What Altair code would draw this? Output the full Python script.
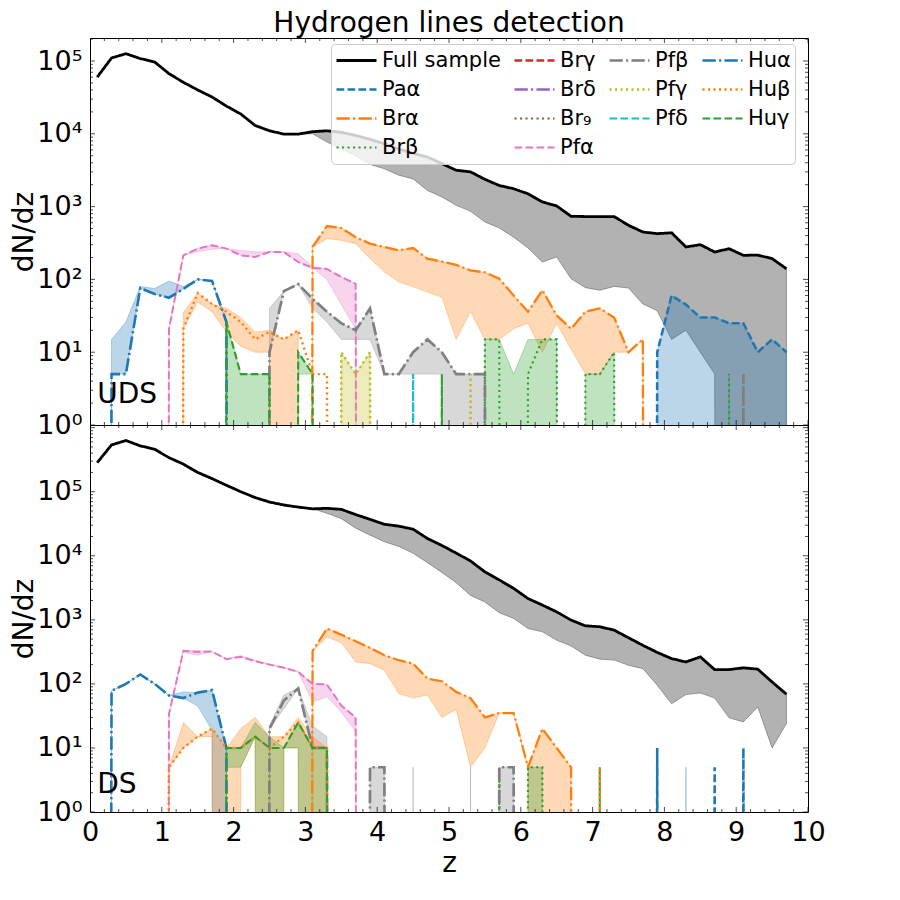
import altair as alt
import pandas as pd

# ---------------- data ----------------
Z_ALL = [0.1, 0.3, 0.5, 0.7, 0.9, 1.1, 1.3, 1.5, 1.7, 1.9, 2.1, 2.3, 2.5, 2.7, 2.9,
         3.1, 3.3, 3.5, 3.7, 3.9, 4.1, 4.3, 4.5, 4.7, 4.9, 5.1, 5.3, 5.5, 5.7, 5.9,
         6.1, 6.3, 6.5, 6.7, 6.9, 7.1, 7.3, 7.5, 7.7, 7.9, 8.1, 8.3, 8.5, 8.7, 8.9,
         9.1, 9.3, 9.5, 9.7]

# ---- UDS (top panel) ----
UDS_FULL_LINE = [6.0e4, 1.1e5, 1.26e5, 1.08e5, 9.7e4, 6.7e4, 5.1e4, 4.0e4, 3.2e4, 2.4e4, 1.87e4, 1.3e4, 1.1e4, 9.9e3, 9.9e3,
                 1.07e4, 1.1e4, 1.05e4, 9.5e3, 8.4e3, 7.3e3, 6.2e3, 5.4e3, 4.8e3, 3.9e3,
                 3.16e3, 3.0e3, 2.37e3, 1.95e3, 1.76e3, 1.5e3, 1.16e3, 1.02e3, 736, 730,
                 730, 730, 553, 448, 425, 437, 279, 300, 238, 264,
                 214, 216, 193, 140]
UDS_FULL_LO = [6.0e4, 1.1e5, 1.26e5, 1.08e5, 9.7e4, 6.7e4, 5.1e4, 4.0e4, 3.2e4, 2.4e4, 1.87e4, 1.3e4, 1.1e4, 9.9e3, 9.9e3,
               1.0e4, 7.7e3, 6.2e3, 5.0e3, 3.8e3, 3.3e3, 2.7e3, 2.4e3, 1.66e3, 1.36e3,
               1.04e3, 861, 613, 508, 380, 270, 173, 203, 102, 77,
               71, 80, 76, 46, 37, 15, 20, 10, 5, 0,
               0, 0, 0, 0]

UDS_PAA_Z = [7.7, 7.9, 8.1, 8.3, 8.5, 8.7, 8.9, 9.1, 9.3, 9.5, 9.7]
UDS_PAA_LINE = [0, 10, 60, 45, 30, 30, 25, 25, 10, 15, 10]
UDS_PAA_LO = [0, 0, 0, 0, 0, 0, 0, 0, 0, 0, 0]

UDS_BRA_Z = [2.9, 3.1, 3.3, 3.5, 3.7, 3.9, 4.1, 4.3, 4.5, 4.7, 4.9, 5.1, 5.3, 5.5, 5.7, 5.9,
             6.1, 6.3, 6.5, 6.7, 6.9, 7.1, 7.3, 7.5, 7.7, 7.9]
UDS_BRA_LINE = [0, 279, 541, 508, 380, 310, 279, 251, 270, 193, 176, 158, 133, 125, 102, 60,
                36, 71, 32, 21, 36, 40, 30, 10, 15, 0]
UDS_BRA_LO = [0, 279, 363, 344, 310, 193, 126, 92, 79, 67, 57, 15, 36, 15, 15, 21,
              25, 10, 25, 11, 5, 5, 10, 10, 15, 0]

UDS_BRB_Z = [5.3, 5.5, 5.7, 5.9, 6.1, 6.3, 6.5, 6.7, 6.9, 7.1, 7.3, 7.5, 8.7, 8.9, 9.1]
UDS_BRB_LINE = [0, 15, 15, 0, 5, 15, 15, 0, 5, 5, 10, 0, 0, 5, 0]
UDS_BRB_LO = [0, 0, 0, 0, 0, 0, 0, 0, 0, 0, 0, 0, 0, 0, 0]
UDS_BRB_HI = [0, 15, 15, 5, 15, 15, 15, 0, 5, 5, 10, 0, 0, 5, 0]

UDS_PFA_Z = [0.9, 1.1, 1.3, 1.5, 1.7, 1.9, 2.1, 2.3, 2.5, 2.7, 2.9, 3.1, 3.3, 3.5, 3.7, 3.9]
UDS_PFA_LINE = [0, 21, 214, 265, 295, 265, 214, 203, 238, 238, 173, 144, 139, 108, 87, 0]
UDS_PFA_LO = [0, 21, 214, 240, 260, 265, 214, 203, 238, 238, 173, 144, 100, 45, 21, 0]
UDS_PFA_HI = [0, 21, 214, 265, 295, 265, 250, 240, 240, 240, 225, 150, 139, 108, 87, 0]

UDS_PFB_Z = [2.3, 2.5, 2.7, 2.9, 3.1, 3.3, 3.5, 3.7, 3.9, 4.1, 4.3, 4.5, 4.7, 4.9, 5.1, 5.3, 5.5, 5.7,
             8.9, 9.1, 9.3]
UDS_PFB_LINE = [0, 10, 69, 86, 54, 36, 25, 20, 40, 5, 5, 10, 15, 10, 5, 5, 5, 0, 0, 5, 0]
UDS_PFB_LO = [0, 10, 69, 86, 40, 26, 15, 15, 15, 5, 5, 5, 5, 5, 0, 0, 0, 0, 0, 0, 0]
UDS_PFB_HI = [0, 40, 69, 86, 54, 36, 25, 20, 40, 5, 5, 10, 15, 10, 5, 5, 5, 0, 0, 0, 0]

UDS_PFG_Z = [3.3, 3.5, 3.7, 3.9, 4.1, 5.1, 5.3, 5.5]
UDS_PFG_LINE = [0, 10, 5, 10, 0, 0, 5, 0]
UDS_PFG_LO = [0, 0, 0, 0, 0, 0, 0, 0]
UDS_PFG_HI = [0, 10, 5, 10, 0, 0, 0, 0]

UDS_PFD_Z = [4.3, 4.5, 4.7]
UDS_PFD_LINE = [0, 5, 0]
UDS_PFD_LO = [0, 0, 0]

UDS_HUA_Z = [0.1, 0.3, 0.5, 0.7, 0.9, 1.1, 1.3, 1.5, 1.7, 1.9, 2.1]
UDS_HUA_LINE = [0, 5, 5, 76, 63, 56, 74, 100, 95, 26, 0]
UDS_HUA_HI = [0, 15, 26, 80, 75, 95, 80, 100, 95, 26, 0]

UDS_HUB_Z = [1.1, 1.3, 1.5, 1.7, 1.9, 2.1, 2.3, 2.5, 2.7, 2.9, 3.1, 3.3, 3.5]
UDS_HUB_LINE = [0, 21, 65, 46, 36, 26, 15, 19, 15, 20, 5, 5, 0]
UDS_HUB_LO = [0, 21, 49, 36, 19, 12, 10, 10, 0, 0, 0, 0, 0]
UDS_HUB_HI = [0, 35, 65, 46, 40, 30, 19, 20, 15, 20, 0, 0, 0]

UDS_HUG_Z = [1.7, 1.9, 2.1, 2.3, 2.5, 2.7, 2.9, 3.1, 3.3, 4.7, 4.9, 5.1]
UDS_HUG_LINE = [0, 26, 5, 5, 5, 0, 10, 5, 0, 0, 5, 0]
UDS_HUG_LO = [0, 0, 0, 0, 0, 0, 5, 5, 0, 0, 0, 0]
UDS_HUG_HI = [0, 26, 5, 5, 5, 0, 10, 5, 0, 0, 0, 0]

# ---- DS (bottom panel) ----
DS_FULL_LINE = [2.84e5, 5.37e5, 6.3e5, 5.2e5, 4.6e5, 3.4e5, 2.7e5, 2.0e5, 1.6e5, 1.26e5, 1.0e5, 8.1e4, 6.9e4, 6.2e4, 5.75e4,
                5.4e4, 5.5e4, 5.3e4, 4.4e4, 3.7e4, 3.1e4, 2.9e4, 2.6e4, 1.86e4, 1.45e4,
                1.1e4, 8.3e3, 5.6e3, 4.2e3, 3.1e3, 2.15e3, 1.7e3, 1.33e3, 990, 806,
                780, 690, 525, 400, 310, 248, 220, 264, 167, 167,
                178, 170, 107, 69]
DS_FULL_LO = [2.84e5, 5.37e5, 6.3e5, 5.2e5, 4.6e5, 3.4e5, 2.7e5, 2.0e5, 1.6e5, 1.26e5, 1.0e5, 8.1e4, 6.9e4, 6.2e4, 5.75e4,
              5.4e4, 4.6e4, 3.8e4, 2.7e4, 2.1e4, 1.65e4, 1.4e4, 1.09e4, 7.8e3, 5.5e3,
              3.8e3, 2.4e3, 1.9e3, 1.29e3, 1.05e3, 730, 650, 480, 390, 280,
              243, 235, 195, 173, 95, 49, 68, 72, 60, 29.5,
              25.5, 43.6, 10, 24]

DS_PAA_Z = [7.7, 7.9, 8.1, 8.3, 8.5, 8.7, 8.9, 9.1, 9.3]
DS_PAA_LINE = [0, 10, 0, 0, 0, 5, 0, 10, 0]
DS_PAA_LO = [0, 0, 0, 0, 0, 0, 0, 0, 0]
DS_PAA_HI = [0, 0, 0, 5, 0, 0, 0, 0, 0]

DS_BRA_Z = [2.9, 3.1, 3.3, 3.5, 3.7, 3.9, 4.1, 4.3, 4.5, 4.7, 4.9, 5.1, 5.3, 5.5, 5.7, 5.9,
            6.1, 6.3, 6.5, 6.7, 6.9]
DS_BRA_LINE = [0, 324, 731, 588, 464, 365, 280, 234, 207, 121, 110, 75, 60, 30, 35, 35, 5, 20, 10, 5, 0]
DS_BRA_LO = [0, 324, 540, 440, 220, 207, 163, 71, 60, 67, 30, 40, 5, 10, 35, 35, 5, 0, 0, 0, 0]

DS_BRB_Z = [5.5, 5.7, 5.9, 6.1, 6.3, 6.5, 6.9, 7.1, 7.3]
DS_BRB_LINE = [0, 5, 0, 5, 5, 0, 0, 5, 0]
DS_BRB_LO = [0, 0, 0, 0, 0, 0, 0, 0, 0]
DS_BRB_HI = [0, 0, 0, 5, 5, 0, 0, 0, 0]

DS_PFA_Z = [0.9, 1.1, 1.3, 1.5, 1.7, 1.9, 2.1, 2.3, 2.5, 2.7, 2.9, 3.1, 3.3, 3.5, 3.7, 3.9]
DS_PFA_LINE = [0, 34, 328, 316, 320, 243, 264, 226, 200, 178, 154, 100, 98, 46, 30, 0]
DS_PFA_LO = [0, 34, 310, 280, 320, 243, 264, 226, 200, 178, 154, 52, 63, 36, 18, 0]
DS_PFA_HI = [0, 34, 330, 330, 320, 250, 275, 235, 205, 182, 158, 100, 98, 46, 30, 0]

DS_PFB_Z = [2.3, 2.5, 2.7, 2.9, 3.1, 3.3, 3.5, 3.7, 3.9, 4.1, 4.3, 4.5, 4.7, 5.1, 5.3, 5.5, 5.7, 5.9, 6.1]
DS_PFB_LINE = [0, 20, 55, 85, 10, 10, 0, 0, 5, 5, 0, 0, 0, 0, 0, 0, 5, 5, 0]
DS_PFB_LO = [0, 20, 41, 85, 10, 10, 0, 0, 0, 0, 0, 0, 0, 0, 0, 0, 0, 0, 0]
DS_PFB_HI = [0, 22, 67, 85, 22, 15, 0, 0, 5, 5, 0, 5, 0, 0, 5, 0, 5, 5, 0]

DS_HUA_Z = [0.1, 0.3, 0.5, 0.7, 0.9, 1.1, 1.3, 1.5, 1.7, 1.9, 2.1]
DS_HUA_LINE = [0, 78, 100, 140, 100, 66, 60, 73, 80, 10, 0]
DS_HUA_LO = [0, 78, 100, 140, 100, 66, 60, 45, 19, 0, 0]
DS_HUA_HI = [0, 78, 100, 140, 100, 66, 75, 73, 80, 10, 0]

DS_HUB_Z = [0.9, 1.1, 1.3, 1.5, 1.7, 1.9, 2.1, 2.3, 2.5, 2.7, 2.9, 3.1, 3.3, 3.5, 6.9, 7.1, 7.3]
DS_HUB_LINE = [0, 5, 10, 15, 20, 10, 10, 15, 10, 15, 25, 10, 10, 0, 0, 5, 0]
DS_HUB_LO = [0, 5, 10, 15, 15, 0, 5, 15, 0, 10, 10, 0, 0, 0, 0, 0, 0]
DS_HUB_HI = [0, 5, 25, 15, 20, 10, 20, 30, 15, 15, 30, 15, 10, 0, 0, 0, 0]

DS_HUG_Z = [1.7, 1.9, 2.1, 2.3, 2.5, 2.7, 2.9, 3.1, 3.3, 3.5]
DS_HUG_LINE = [0, 10, 10, 15, 10, 10, 25, 10, 10, 0]
DS_HUG_LO = [0, 5, 5, 15, 0, 10, 10, 0, 0, 0]
DS_HUG_HI = [0, 10, 10, 25, 15, 10, 25, 10, 10, 0]

# ---------------- styles ----------------
# legend entries, listed row by row (4 columns)
LEGEND_ORDER = ["Full sample", "Brγ", "Pfβ", "Huα",
                "Paα", "Brδ", "Pfγ", "Huβ",
                "Brα", "Br₉", "Pfδ", "Huγ",
                "Brβ", "Pfα"]
COLORS = {"Full sample": "#000000", "Paα": "#1f77b4", "Brα": "#ff7f0e", "Brβ": "#2ca02c",
          "Brγ": "#d62728", "Brδ": "#9467bd", "Br₉": "#8c564b", "Pfα": "#e377c2",
          "Pfβ": "#7f7f7f", "Pfγ": "#bcbd22", "Pfδ": "#17becf", "Huα": "#1f77b4",
          "Huβ": "#ff7f0e", "Huγ": "#2ca02c"}
SOLID, DASHED, DASHDOT, DOTTED = [1, 0], [7.7, 3.3], [13.3, 3.3, 2.1, 3.3], [2.1, 3.4]
DASHES = {"Full sample": SOLID, "Paα": DASHED, "Brα": DASHDOT, "Brβ": DOTTED,
          "Brγ": DASHED, "Brδ": DASHDOT, "Br₉": DOTTED, "Pfα": DASHED,
          "Pfβ": DASHDOT, "Pfγ": DOTTED, "Pfδ": DASHED, "Huα": DASHDOT,
          "Huβ": DOTTED, "Huγ": DASHED}
WIDTHS = {k: (2.8 if k == "Full sample" else 2.0) for k in LEGEND_ORDER}

W, H = 718, 387
FONT = "DejaVu Sans"
SUP = "['⁰','¹','²','³','⁴','⁵','⁶']"


def rows(series, zs, line, lo, hi):
    return [dict(series=series, z=z, line=l, lo=a, hi=b)
            for z, l, a, b in zip(zs, line, lo, hi)]


UDS_ENTRIES = [
    ("Full sample", Z_ALL, UDS_FULL_LINE, UDS_FULL_LO, UDS_FULL_LINE),
    ("Paα", UDS_PAA_Z, UDS_PAA_LINE, UDS_PAA_LO, UDS_PAA_LINE),
    ("Brα", UDS_BRA_Z, UDS_BRA_LINE, UDS_BRA_LO, UDS_BRA_LINE),
    ("Brβ", UDS_BRB_Z, UDS_BRB_LINE, UDS_BRB_LO, UDS_BRB_HI),
    ("Pfα", UDS_PFA_Z, UDS_PFA_LINE, UDS_PFA_LO, UDS_PFA_HI),
    ("Pfβ", UDS_PFB_Z, UDS_PFB_LINE, UDS_PFB_LO, UDS_PFB_HI),
    ("Pfγ", UDS_PFG_Z, UDS_PFG_LINE, UDS_PFG_LO, UDS_PFG_HI),
    ("Pfδ", UDS_PFD_Z, UDS_PFD_LINE, UDS_PFD_LO, UDS_PFD_LO),
    ("Huα", UDS_HUA_Z, UDS_HUA_LINE, UDS_HUA_LINE, UDS_HUA_HI),
    ("Huβ", UDS_HUB_Z, UDS_HUB_LINE, UDS_HUB_LO, UDS_HUB_HI),
    ("Huγ", UDS_HUG_Z, UDS_HUG_LINE, UDS_HUG_LO, UDS_HUG_HI),
]
DS_ENTRIES = [
    ("Full sample", Z_ALL, DS_FULL_LINE, DS_FULL_LO, DS_FULL_LINE),
    ("Paα", DS_PAA_Z, DS_PAA_LINE, DS_PAA_LO, DS_PAA_HI),
    ("Brα", DS_BRA_Z, DS_BRA_LINE, DS_BRA_LO, DS_BRA_LINE),
    ("Brβ", DS_BRB_Z, DS_BRB_LINE, DS_BRB_LO, DS_BRB_HI),
    ("Pfα", DS_PFA_Z, DS_PFA_LINE, DS_PFA_LO, DS_PFA_HI),
    ("Pfβ", DS_PFB_Z, DS_PFB_LINE, DS_PFB_LO, DS_PFB_HI),
    ("Huα", DS_HUA_Z, DS_HUA_LINE, DS_HUA_LO, DS_HUA_HI),
    ("Huβ", DS_HUB_Z, DS_HUB_LINE, DS_HUB_LO, DS_HUB_HI),
    ("Huγ", DS_HUG_Z, DS_HUG_LINE, DS_HUG_LO, DS_HUG_HI),
]

XMAJ = list(range(0, 11))
XMIN = [round(i * 0.2, 1) for i in range(51) if i % 5]


def yticks(top):
    maj = [10 ** k for k in range(0, 7) if 10 ** k <= top]
    mn = [m * 10 ** k for k in range(0, 7) for m in range(2, 10) if m * 10 ** k <= top]
    return pd.DataFrame({"v": maj + mn, "len": [10] * len(maj) + [6] * len(mn)})


def fix(chart):
    return chart.transform_calculate(
        yl="datum.line > 0 ? datum.line : 1e-100",
        ylo="datum.lo > 0 ? datum.lo : 1e-100",
        yhi="datum.hi > 0 ? datum.hi : 1e-100",
    )


def panel(entries, ymax, label, label_vals, show_legend, bottom):
    xs = alt.Scale(domain=[0, 10], nice=False, zero=False)
    ys = alt.Scale(type="log", domain=[1, ymax], nice=False)
    cscale = alt.Scale(domain=LEGEND_ORDER, range=[COLORS[k] for k in LEGEND_ORDER])
    dscale = alt.Scale(domain=LEGEND_ORDER, range=[DASHES[k] for k in LEGEND_ORDER])
    wscale = alt.Scale(domain=LEGEND_ORDER, range=[WIDTHS[k] for k in LEGEND_ORDER])

    if bottom:
        xaxis = alt.Axis(values=XMAJ, format="d", title="z", labelPadding=7, labelFlush=False,
                         labelOverlap=False, titlePadding=4, ticks=False, domain=False, grid=False)
    else:
        xaxis = None
    yaxis = alt.Axis(values=label_vals, title="dN/dz", ticks=False, domain=False, grid=False,
                     labelPadding=8, labelFlush=False, labelOverlap=False,
                     minExtent=50, maxExtent=50, titlePadding=2,
                     labelExpr="'10' + " + SUP + "[round(log(datum.value)/LN10)]")

    layers = []
    all_recs = []
    first = True
    for e in entries:
        recs = rows(*e)
        all_recs += recs
        c = COLORS[e[0]]
        enc = dict(x=alt.X("z:Q", scale=xs), y=alt.Y("yhi:Q", scale=ys), y2="ylo:Q")
        if first:
            enc = dict(x=alt.X("z:Q", scale=xs, axis=xaxis), y=alt.Y("yhi:Q", scale=ys, axis=yaxis),
                       y2="ylo:Q")
            first = False
        layers.append(fix(alt.Chart(pd.DataFrame(recs))).mark_area(
            clip=True, fill=c, fillOpacity=0.3, stroke=c, strokeOpacity=0.3, strokeWidth=1
        ).encode(**enc))

    if show_legend:
        leg = alt.Legend(orient="none", legendX=241, legendY=6, columns=4, direction="horizontal",
                         symbolType="stroke", symbolSize=1600, labelFontSize=21,
                         labelFont=FONT, labelColor="black", rowPadding=4, columnPadding=12,
                         padding=4, labelOffset=4, labelLimit=300, clipHeight=25,
                         fillColor="rgba(255,255,255,0.8)", strokeColor="#cccccc",
                         cornerRadius=4)
        extra = dict(legend=leg)
    else:
        extra = dict(legend=None)
    df = pd.DataFrame(all_recs)
    lines = fix(alt.Chart(df)).mark_line(clip=True).encode(
        x=alt.X("z:Q", scale=xs),
        y=alt.Y("yl:Q", scale=ys),
        color=alt.Color("series:N", scale=cscale, title=None, **extra),
        strokeDash=alt.StrokeDash("series:N", scale=dscale, title=None, **extra),
        strokeWidth=alt.StrokeWidth("series:N", scale=wscale, title=None, **extra),
    )
    layers.append(lines)
    layers.append(alt.Chart(pd.DataFrame({"z": [0.1], "v": [2], "t": [label]})).mark_text(
        align="left", baseline="alphabetic", fontSize=28, font=FONT, color="black"
    ).encode(x=alt.X("z:Q", scale=xs), y=alt.Y("v:Q", scale=ys), text="t:N"))

    xt = pd.DataFrame({"v": XMAJ + XMIN, "len": [10] * len(XMAJ) + [6] * len(XMIN)})
    yt = yticks(ymax)
    for yv in (0, H):
        layers.append(alt.Chart(xt).mark_tick(orient="vertical", clip=True, thickness=1, color="black").encode(
            x=alt.X("v:Q", scale=xs), y=alt.value(yv), size=alt.Size("len:Q", scale=None)))
    for xv in (0, W):
        layers.append(alt.Chart(yt).mark_tick(orient="horizontal", clip=True, thickness=1, color="black").encode(
            y=alt.Y("v:Q", scale=ys), x=alt.value(xv), size=alt.Size("len:Q", scale=None)))

    return alt.layer(*layers).properties(width=W, height=H)


top = panel(UDS_ENTRIES, 2.07e5, "UDS", [1, 10, 100, 1e3, 1e4, 1e5], True, False).properties(
    title=alt.TitleParams("Hydrogen lines detection", fontSize=28, font=FONT, fontWeight="normal",
                          anchor="middle", frame="group", offset=0, color="black"))
bot = panel(DS_ENTRIES, 1.1e6, "DS", [1, 10, 100, 1e3, 1e4, 1e5], False, True)

chart = alt.vconcat(top, bot, spacing=0, bounds="flush").resolve_scale(
    x="independent", y="independent", color="independent", strokeDash="independent",
    strokeWidth="independent"
).resolve_legend(
    color="independent", strokeDash="independent", strokeWidth="independent"
).properties(
    padding={"left": 1, "top": 1, "right": 0, "bottom": 0}
).configure_view(
    stroke="black", strokeWidth=1
).configure_axis(
    labelFont=FONT, labelFontSize=27, labelColor="black",
    titleFont=FONT, titleFontSize=28, titleFontWeight="normal", titleColor="black"
)

chart.save("out.html", embed_options={"renderer": "svg", "actions": False})
